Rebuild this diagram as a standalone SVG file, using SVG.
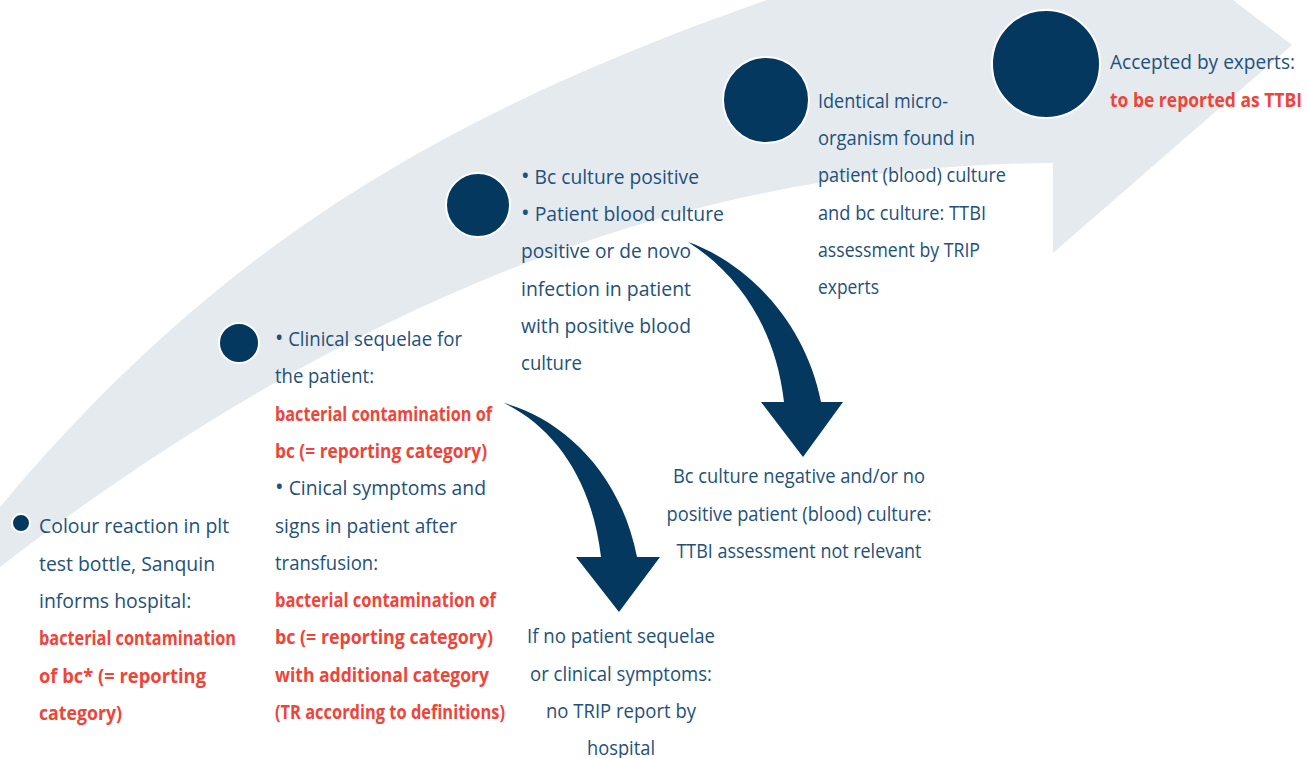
<svg xmlns="http://www.w3.org/2000/svg" width="1308" height="758" viewBox="0 0 1308 758">
  <style>
    .bg { fill: #e5eaef; }
    .dot { fill: #04385f; stroke: #ffffff; stroke-width: 2; }
    .t { font-family: "Open Sans", "Noto Sans", sans-serif; font-size: 19.4px; fill: #23507a; }
    .r { font-family: "Open Sans", "Noto Sans", sans-serif; font-size: 19.4px; font-weight: 700; fill: #ef4438; }
    .b { font-size: 23px; }
    .c { text-anchor: middle; }
    .arrow { fill: #04385f; }
  </style>
  <rect x="0" y="0" width="1308" height="758" fill="#ffffff"/>
  <path id="band" class="bg" d="M 0,567 C 380,275 720,165 1053,163 L 1053,253 L 1292,45 L 1174,-45 L 895,-45 L 767,0 C 450,111 220,243 0,507 Z"/>

  <g id="connectors">
    <path class="arrow" d="M 688,242 C 745,262 805,320 821,402 L 843,402 L 803,457 L 761,402 L 784,402 C 776,330 740,275 688,242 Z"/>
    <path class="arrow" d="M 504,403 C 560,418 620,470 637,557 L 660,557 L 619,612 L 576,557 L 601,557 C 592,480 555,428 504,403 Z"/>
  </g>

  <g id="node1">
    <circle class="dot" cx="21" cy="523" r="9"/>
    <text class="t" x="39" y="533.3">Colour reaction in plt</text>
    <text class="t" x="39" y="570.6">test bottle, Sanquin</text>
    <text class="t" x="39" y="607.9">informs hospital:</text>
    <text class="r" x="39" y="645.2" textLength="197" lengthAdjust="spacingAndGlyphs">bacterial contamination</text>
    <text class="r" x="39" y="682.5" textLength="167" lengthAdjust="spacingAndGlyphs">of bc* (= reporting</text>
    <text class="r" x="39" y="719.8" textLength="83" lengthAdjust="spacingAndGlyphs">category)</text>
  </g>

  <g id="node2">
    <circle class="dot" cx="239" cy="343" r="20"/>
    <text class="t" x="275" y="346" textLength="187" lengthAdjust="spacingAndGlyphs"><tspan class="b">•</tspan> Clinical sequelae for</text>
    <text class="t" x="275" y="383.3" textLength="99" lengthAdjust="spacingAndGlyphs">the patient:</text>
    <text class="r" x="275" y="420.6" textLength="217" lengthAdjust="spacingAndGlyphs">bacterial contamination of</text>
    <text class="r" x="275" y="457.9" textLength="212" lengthAdjust="spacingAndGlyphs">bc (= reporting category)</text>
    <text class="t" x="275" y="495.2" textLength="211" lengthAdjust="spacingAndGlyphs"><tspan class="b">•</tspan> Cinical symptoms and</text>
    <text class="t" x="275" y="532.5" textLength="182" lengthAdjust="spacingAndGlyphs">signs in patient after</text>
    <text class="t" x="275" y="569.8" textLength="103" lengthAdjust="spacingAndGlyphs">transfusion:</text>
    <text class="r" x="275" y="607.1" textLength="221" lengthAdjust="spacingAndGlyphs">bacterial contamination of</text>
    <text class="r" x="275" y="644.4" textLength="218" lengthAdjust="spacingAndGlyphs">bc (= reporting category)</text>
    <text class="r" x="275" y="681.7" textLength="214" lengthAdjust="spacingAndGlyphs">with additional category</text>
    <text class="r" x="275" y="719" textLength="230" lengthAdjust="spacingAndGlyphs">(TR according to definitions)</text>
  </g>

  <g id="node3">
    <circle class="dot" cx="478" cy="205" r="32"/>
    <text class="t" x="521" y="183.7" textLength="178" lengthAdjust="spacingAndGlyphs"><tspan class="b">•</tspan> Bc culture positive</text>
    <text class="t" x="521" y="221" textLength="203" lengthAdjust="spacingAndGlyphs"><tspan class="b">•</tspan> Patient blood culture</text>
    <text class="t" x="521" y="258.3" textLength="170" lengthAdjust="spacingAndGlyphs">positive or de novo</text>
    <text class="t" x="521" y="295.6" textLength="170" lengthAdjust="spacingAndGlyphs">infection in patient</text>
    <text class="t" x="521" y="332.9" textLength="170" lengthAdjust="spacingAndGlyphs">with positive blood</text>
    <text class="t" x="521" y="370.2" textLength="61" lengthAdjust="spacingAndGlyphs">culture</text>
  </g>

  <g id="node4">
    <circle class="dot" cx="766" cy="100" r="43"/>
    <text class="t" x="818" y="107.7" textLength="130" lengthAdjust="spacingAndGlyphs">Identical micro-</text>
    <text class="t" x="818" y="145" textLength="157" lengthAdjust="spacingAndGlyphs">organism found in</text>
    <text class="t" x="818" y="182.3" textLength="188" lengthAdjust="spacingAndGlyphs">patient (blood) culture</text>
    <text class="t" x="818" y="219.6" textLength="168" lengthAdjust="spacingAndGlyphs">and bc culture: TTBI</text>
    <text class="t" x="818" y="256.9" textLength="162" lengthAdjust="spacingAndGlyphs">assessment by TRIP</text>
    <text class="t" x="818" y="294.2" textLength="61" lengthAdjust="spacingAndGlyphs">experts</text>
  </g>

  <g id="node5">
    <circle class="dot" cx="1046" cy="64" r="54"/>
    <text class="t" x="1110" y="69.3" textLength="185" lengthAdjust="spacingAndGlyphs">Accepted by experts:</text>
    <text class="r" x="1110" y="106.6" textLength="192" lengthAdjust="spacingAndGlyphs">to be reported as TTBI</text>
  </g>

  <g id="node6">
    <text class="t c" x="799" y="483.3" textLength="252" lengthAdjust="spacingAndGlyphs">Bc culture negative and/or no</text>
    <text class="t c" x="799" y="520.6" textLength="265" lengthAdjust="spacingAndGlyphs">positive patient (blood) culture:</text>
    <text class="t c" x="799" y="557.9" textLength="245" lengthAdjust="spacingAndGlyphs">TTBI assessment not relevant</text>
  </g>

  <g id="node7">
    <text class="t c" x="621" y="643.3" textLength="188" lengthAdjust="spacingAndGlyphs">If no patient sequelae</text>
    <text class="t c" x="621" y="680.6" textLength="182" lengthAdjust="spacingAndGlyphs">or clinical symptoms:</text>
    <text class="t c" x="621" y="717.9" textLength="150" lengthAdjust="spacingAndGlyphs">no TRIP report by</text>
    <text class="t c" x="621" y="754.5" textLength="68" lengthAdjust="spacingAndGlyphs">hospital</text>
  </g>
</svg>
